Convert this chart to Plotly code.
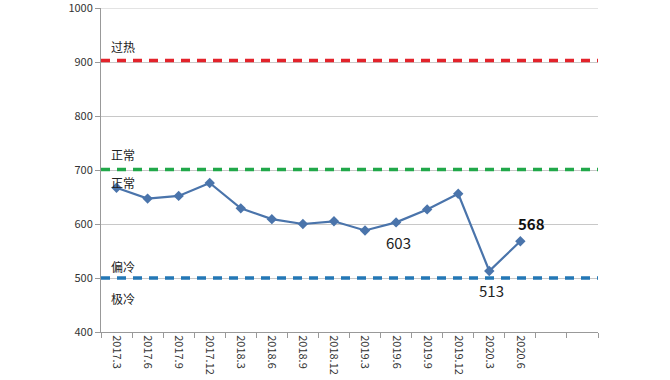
import plotly.graph_objects as go

categories = ["2017.3", "2017.6", "2017.9", "2017.12", "2018.3", "2018.6", "2018.9",
              "2018.12", "2019.3", "2019.6", "2019.9", "2019.12", "2020.3", "2020.6"]
extra_slots = [" ", "  "]
values = [667, 647, 652, 676, 629, 609, 600, 605, 588, 603, 627, 656, 513, 568]

y_ticks = [400, 500, 600, 700, 800, 900, 1000]

threshold_values = [903, 701, 500]
threshold_colors = ["#e3232b", "#21a84a", "#2377b5"]

zone_labels = ["过热", "正常", "正常", "偏冷", "极冷"]
zone_label_y = [929, 728, 677, 521, 462]

point_labels = {"2019.6": "603", "2020.3": "513", "2020.6": "568"}

all_cats = categories + extra_slots

fig = go.Figure()
fig.add_trace(go.Scatter(
    x=categories, y=values, mode="lines+markers",
    line=dict(color="#4a74ab", width=2.2),
    marker=dict(symbol="diamond", size=8, color="#4a74ab"),
    showlegend=False, hoverinfo="x+y"))

# top border gridline at the axis maximum
fig.add_shape(type="line", xref="paper", yref="y", x0=0, x1=1,
              y0=y_ticks[-1], y1=y_ticks[-1], line=dict(color="#c8c8c8", width=1))

for v, c in zip(threshold_values, threshold_colors):
    fig.add_shape(type="line", xref="paper", yref="y", x0=0, x1=1, y0=v, y1=v,
                  line=dict(color=c, width=3.5, dash="9px,7px"), layer="above")

for t, yv in zip(zone_labels, zone_label_y):
    fig.add_annotation(x=0.016, xref="paper", y=yv, yref="y", text=t, showarrow=False,
                       xanchor="left", font=dict(size=12, color="#222"))

for cat, txt in point_labels.items():
    i = categories.index(cat)
    v = values[i]
    if txt == "568":
        fig.add_annotation(x=i, xref="x", y=v, yref="y", text="<b>" + txt + "</b>",
                           showarrow=False, yshift=18, xshift=11,
                           font=dict(size=15, color="#111"))
    else:
        fig.add_annotation(x=i, xref="x", y=v, yref="y", text=txt,
                           showarrow=False, yshift=-20, xshift=2,
                           font=dict(size=15, color="#222"))

fig.update_layout(
    width=670, height=380,
    margin=dict(l=101, r=72, t=8, b=48, autoexpand=False),
    paper_bgcolor="white", plot_bgcolor="white",
    font=dict(family="Noto Sans CJK SC, Noto Sans, sans-serif", color="#333"),
)
fig.update_xaxes(
    type="category", categoryorder="array", categoryarray=all_cats,
    range=[-0.5, len(all_cats) - 0.5], automargin=False,
    tickson="boundaries", ticks="outside", ticklen=5, tickcolor="#999",
    showline=True, linecolor="#999", linewidth=1, showgrid=False,
    tickangle=90, tickfont=dict(size=11, color="#333"),
)
fig.update_yaxes(
    range=[400, 1000], tickmode="array", tickvals=y_ticks,
    ticks="outside", ticklen=5, tickcolor="#999", ticklabeloverflow="allow",
    showline=True, linecolor="#999", linewidth=1, automargin=False,
    showgrid=True, gridcolor="#c8c8c8", gridwidth=1, zeroline=False,
    tickfont=dict(size=11, color="#333"),
)
fig.write_html("out.html", config={"displayModeBar": False},
               post_script="document.body.style.margin='0';")
